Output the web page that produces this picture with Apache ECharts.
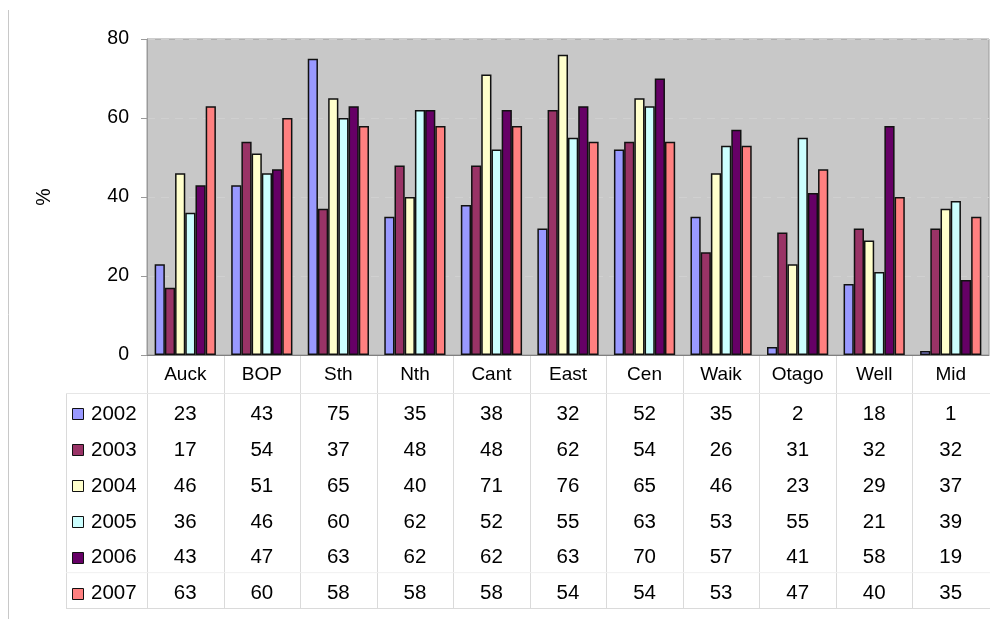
<!DOCTYPE html>
<html>
<head>
<meta charset="utf-8">
<script src="https://cdn.jsdelivr.net/npm/echarts@6/dist/echarts.min.js"></script>
<style>
  html, body { margin: 0; padding: 0; background: #fff; }
  #chart { width: 990px; height: 619px; }
</style>
</head>
<body>
<div id="chart"></div>
<script>
// Regions along the category axis
const categories = ['Auck', 'BOP', 'Sth', 'Nth', 'Cant', 'East', 'Cen', 'Waik', 'Otago', 'Well', 'Mid'];
// Survey years (one series per year)
const years = ['2002', '2003', '2004', '2005', '2006', '2007'];
// Percentages per region, one array per year
const v2002 = [23, 43, 75, 35, 38, 32, 52, 35, 2, 18, 1];
const v2003 = [17, 54, 37, 48, 48, 62, 54, 26, 31, 32, 32];
const v2004 = [46, 51, 65, 40, 71, 76, 65, 46, 23, 29, 37];
const v2005 = [36, 46, 60, 62, 52, 55, 63, 53, 55, 21, 39];
const v2006 = [43, 47, 63, 62, 62, 63, 70, 57, 41, 58, 19];
const v2007 = [63, 60, 58, 58, 58, 54, 54, 53, 47, 40, 35];
// Value-axis ticks
const yTicks = [0, 20, 40, 60, 80];

const seriesValues = [v2002, v2003, v2004, v2005, v2006, v2007];
const colors = ['#9999FF', '#993366', '#FFFFCC', '#CCFFFF', '#660066', '#FF8080'];
const FONT = '"Liberation Sans", Arial, sans-serif';
const FS_AXIS = 19.5;
const FS_CAT = 19;
const FS_TABLE = 20.5;

const plotLeft = 147, plotRight = 989, plotTop = 39, plotBottom = 355;
const tableTop = 393, tableBottom = 608, tableLeft = 66;
const rowH = (tableBottom - tableTop) / years.length;

const chart = echarts.init(document.getElementById('chart'), null, { renderer: 'canvas' });

chart.setOption({
  backgroundColor: '#ffffff',
  animation: false,
  textStyle: { fontFamily: FONT },
  grid: {
    left: plotLeft, right: 990 - plotRight, top: plotTop, bottom: 619 - plotBottom,
    show: true, backgroundColor: '#C8C8C8', borderColor: '#9A9A9A', borderWidth: 1
  },
  xAxis: {
    type: 'category',
    data: categories,
    axisLine: { show: true, lineStyle: { color: '#808080', width: 1 } },
    axisTick: { show: false },
    axisLabel: { color: '#000', fontSize: FS_CAT, fontFamily: FONT, margin: 10 }
  },
  yAxis: {
    type: 'value',
    min: yTicks[0], max: yTicks[yTicks.length - 1], interval: 20,
    name: '%', nameLocation: 'middle', nameRotate: 90, nameGap: 92,
    nameTextStyle: { color: '#000', fontSize: FS_AXIS, fontFamily: FONT },
    axisLine: { show: true, lineStyle: { color: '#9A9A9A' } },
    axisTick: { show: true, length: 6, lineStyle: { color: '#9A9A9A' } },
    axisLabel: { color: '#000', fontSize: FS_AXIS, fontFamily: FONT, margin: 18 },
    splitLine: { show: true, lineStyle: { color: '#D0D0D0', type: [8, 6], width: 1 } }
  },
  series: years.map((y, i) => ({
    name: y,
    type: 'bar',
    data: seriesValues[i],
    barGap: '0%',
    barCategoryGap: '20%',
    itemStyle: { color: colors[i], borderColor: '#111', borderWidth: 1.5 }
  }))
});

// Data table beneath the plot: grid lines, legend keys and the values of each series
function drawTable() {
  const centers = categories.map((c, i) => chart.convertToPixel({ xAxisIndex: 0 }, i));
  const band = centers.length > 1 ? centers[1] - centers[0] : 76;
  const els = [];
  const lineColor = '#DADADA';

  // page rule on the far left
  els.push({ type: 'line', shape: { x1: 8.5, y1: 10, x2: 8.5, y2: 619 }, style: { stroke: '#C8C8C8', lineWidth: 1 } });

  // vertical separators between categories
  for (let i = 0; i < categories.length; i++) {
    const x = Math.round(centers[0] - band / 2 + i * band) + 0.5;
    els.push({ type: 'line', shape: { x1: x, y1: plotBottom, x2: x, y2: tableBottom }, style: { stroke: lineColor, lineWidth: 1 } });
  }
  // left edge of the legend column
  els.push({ type: 'line', shape: { x1: tableLeft + 0.5, y1: tableTop, x2: tableLeft + 0.5, y2: tableBottom }, style: { stroke: lineColor, lineWidth: 1 } });
  // horizontal rules
  els.push({ type: 'line', shape: { x1: tableLeft, y1: tableTop + 0.5, x2: 990, y2: tableTop + 0.5 }, style: { stroke: '#E6E6E6', lineWidth: 1 } });
  els.push({ type: 'line', shape: { x1: tableLeft, y1: tableBottom + 0.5, x2: 990, y2: tableBottom + 0.5 }, style: { stroke: lineColor, lineWidth: 1 } });
  els.push({ type: 'line', shape: { x1: tableLeft, y1: tableTop + rowH * 5 + 0.5, x2: 990, y2: tableTop + rowH * 5 + 0.5 }, style: { stroke: '#F0F0F0', lineWidth: 1 } });

  years.forEach((y, r) => {
    const cy = tableTop + rowH * r + rowH / 2 + 3.5;
    // legend key
    els.push({
      type: 'rect',
      shape: { x: 72.5, y: Math.round(cy - 6) + 0.5, width: 11, height: 11 },
      style: { fill: colors[r], stroke: '#111', lineWidth: 1 }
    });
    els.push({
      type: 'text',
      style: { x: 91, y: cy, text: y, fill: '#000', font: FS_TABLE + 'px ' + FONT, textAlign: 'left', textVerticalAlign: 'middle' }
    });
    seriesValues[r].forEach((v, c) => {
      els.push({
        type: 'text',
        style: { x: centers[c], y: cy, text: String(v), fill: '#000', font: FS_TABLE + 'px ' + FONT, textAlign: 'center', textVerticalAlign: 'middle' }
      });
    });
  });

  chart.setOption({ graphic: { elements: els } });
}
drawTable();
</script>
</body>
</html>
